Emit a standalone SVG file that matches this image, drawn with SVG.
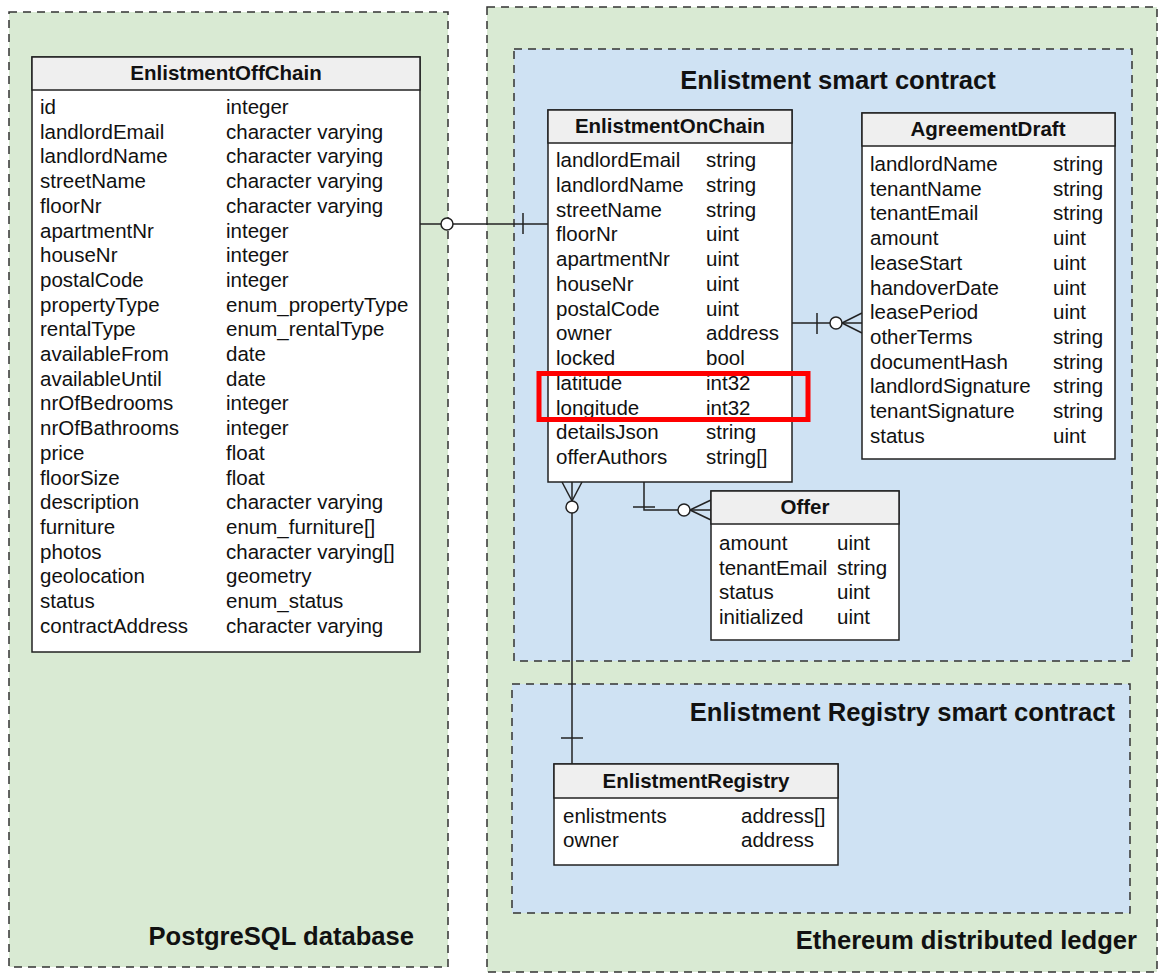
<svg xmlns="http://www.w3.org/2000/svg" width="1162" height="974" viewBox="0 0 1162 974">
<style>
.green{fill:#d9ead3;stroke:#333;stroke-width:1.5;stroke-dasharray:8 6}
.blue{fill:#cfe2f3;stroke:#333;stroke-width:1.5;stroke-dasharray:8 6}
.box{fill:#fff;stroke:#222;stroke-width:1.5}
.hdr{fill:#efefef;stroke:#222;stroke-width:1.5}
text{font-family:"Liberation Sans",Arial,sans-serif;fill:#111}
.h{font-size:20.5px;font-weight:bold;text-anchor:middle}
.r{font-size:20.5px}
.t{font-size:25.6px;font-weight:bold}
.ln{fill:none;stroke:#222;stroke-width:1.5}
.c{fill:#fff;stroke:#222;stroke-width:1.5}
</style>
<rect x="0" y="0" width="1162" height="974" fill="#fff"/>
<g id="postgres">
<rect class="green" x="9" y="12" width="439" height="955"/>
<text class="t" x="414" y="945" text-anchor="end">PostgreSQL database</text>
</g>
<g id="ethereum">
<rect class="green" x="487" y="7" width="670" height="965"/>
<text class="t" x="1137" y="949" text-anchor="end">Ethereum distributed ledger</text>
</g>
<g id="enlistment-contract">
<rect class="blue" x="514" y="49" width="618" height="612"/>
<text class="t" x="838" y="89" text-anchor="middle">Enlistment smart contract</text>
</g>
<g id="registry-contract">
<rect class="blue" x="512" y="684" width="618" height="229"/>
<text class="t" x="1115" y="721" text-anchor="end">Enlistment Registry smart contract</text>
</g>
<g id="connectors">
<line class="ln" x1="420" y1="224" x2="548" y2="224"/>
<line class="ln" x1="523" y1="213" x2="523" y2="234"/>
<circle class="c" cx="447" cy="224" r="6"/>
<line class="ln" x1="792" y1="323" x2="862" y2="323"/>
<line class="ln" x1="817" y1="313" x2="817" y2="334"/>
<line class="ln" x1="842" y1="323" x2="862" y2="313"/>
<line class="ln" x1="842" y1="323" x2="862" y2="333"/>
<circle class="c" cx="836" cy="323" r="6"/>
<polyline class="ln" points="644,482 644,510 711,510"/>
<line class="ln" x1="633" y1="507" x2="655" y2="507"/>
<line class="ln" x1="690" y1="510" x2="711" y2="500"/>
<line class="ln" x1="690" y1="510" x2="711" y2="520"/>
<circle class="c" cx="684" cy="510" r="6"/>
<line class="ln" x1="572" y1="482" x2="572" y2="764"/>
<line class="ln" x1="562" y1="482" x2="572" y2="501"/>
<line class="ln" x1="582" y1="482" x2="572" y2="501"/>
<circle class="c" cx="572" cy="507" r="6"/>
<line class="ln" x1="561" y1="738" x2="583" y2="738"/>
</g>
<g id="EnlistmentOffChain">
<rect class="box" x="32" y="57" width="388" height="595"/>
<rect class="hdr" x="32" y="57" width="388" height="33"/>
<text class="h" x="226" y="80">EnlistmentOffChain</text>
<g class="r">
<text x="40" y="114">id</text><text x="226" y="114">integer</text>
<text x="40" y="138.7">landlordEmail</text><text x="226" y="138.7">character varying</text>
<text x="40" y="163.4">landlordName</text><text x="226" y="163.4">character varying</text>
<text x="40" y="188.1">streetName</text><text x="226" y="188.1">character varying</text>
<text x="40" y="212.8">floorNr</text><text x="226" y="212.8">character varying</text>
<text x="40" y="237.5">apartmentNr</text><text x="226" y="237.5">integer</text>
<text x="40" y="262.2">houseNr</text><text x="226" y="262.2">integer</text>
<text x="40" y="286.9">postalCode</text><text x="226" y="286.9">integer</text>
<text x="40" y="311.6">propertyType</text><text x="226" y="311.6">enum_propertyType</text>
<text x="40" y="336.3">rentalType</text><text x="226" y="336.3">enum_rentalType</text>
<text x="40" y="361">availableFrom</text><text x="226" y="361">date</text>
<text x="40" y="385.7">availableUntil</text><text x="226" y="385.7">date</text>
<text x="40" y="410.4">nrOfBedrooms</text><text x="226" y="410.4">integer</text>
<text x="40" y="435.1">nrOfBathrooms</text><text x="226" y="435.1">integer</text>
<text x="40" y="459.8">price</text><text x="226" y="459.8">float</text>
<text x="40" y="484.5">floorSize</text><text x="226" y="484.5">float</text>
<text x="40" y="509.2">description</text><text x="226" y="509.2">character varying</text>
<text x="40" y="533.9">furniture</text><text x="226" y="533.9">enum_furniture[]</text>
<text x="40" y="558.6">photos</text><text x="226" y="558.6">character varying[]</text>
<text x="40" y="583.3">geolocation</text><text x="226" y="583.3">geometry</text>
<text x="40" y="608">status</text><text x="226" y="608">enum_status</text>
<text x="40" y="632.7">contractAddress</text><text x="226" y="632.7">character varying</text>
</g>
</g>
<g id="EnlistmentOnChain">
<rect class="box" x="548" y="110" width="244" height="372"/>
<rect class="hdr" x="548" y="110" width="244" height="33"/>
<text class="h" x="670" y="133">EnlistmentOnChain</text>
<g class="r">
<text x="556" y="167">landlordEmail</text><text x="706" y="167">string</text>
<text x="556" y="191.75">landlordName</text><text x="706" y="191.75">string</text>
<text x="556" y="216.5">streetName</text><text x="706" y="216.5">string</text>
<text x="556" y="241.25">floorNr</text><text x="706" y="241.25">uint</text>
<text x="556" y="266">apartmentNr</text><text x="706" y="266">uint</text>
<text x="556" y="290.75">houseNr</text><text x="706" y="290.75">uint</text>
<text x="556" y="315.5">postalCode</text><text x="706" y="315.5">uint</text>
<text x="556" y="340.25">owner</text><text x="706" y="340.25">address</text>
<text x="556" y="365">locked</text><text x="706" y="365">bool</text>
<text x="556" y="389.75">latitude</text><text x="706" y="389.75">int32</text>
<text x="556" y="414.5">longitude</text><text x="706" y="414.5">int32</text>
<text x="556" y="439.25">detailsJson</text><text x="706" y="439.25">string</text>
<text x="556" y="464">offerAuthors</text><text x="706" y="464">string[]</text>
</g>
<rect x="539" y="373.5" width="269" height="46" fill="none" stroke="#f00" stroke-width="5"/>
</g>
<g id="AgreementDraft">
<rect class="box" x="862" y="113" width="253" height="346"/>
<rect class="hdr" x="862" y="113" width="253" height="33"/>
<text class="h" x="988" y="136">AgreementDraft</text>
<g class="r">
<text x="870" y="171">landlordName</text><text x="1053" y="171">string</text>
<text x="870" y="195.7">tenantName</text><text x="1053" y="195.7">string</text>
<text x="870" y="220.4">tenantEmail</text><text x="1053" y="220.4">string</text>
<text x="870" y="245.1">amount</text><text x="1053" y="245.1">uint</text>
<text x="870" y="269.8">leaseStart</text><text x="1053" y="269.8">uint</text>
<text x="870" y="294.5">handoverDate</text><text x="1053" y="294.5">uint</text>
<text x="870" y="319.2">leasePeriod</text><text x="1053" y="319.2">uint</text>
<text x="870" y="343.9">otherTerms</text><text x="1053" y="343.9">string</text>
<text x="870" y="368.6">documentHash</text><text x="1053" y="368.6">string</text>
<text x="870" y="393.3">landlordSignature</text><text x="1053" y="393.3">string</text>
<text x="870" y="418">tenantSignature</text><text x="1053" y="418">string</text>
<text x="870" y="442.7">status</text><text x="1053" y="442.7">uint</text>
</g>
</g>
<g id="Offer">
<rect class="box" x="711" y="491" width="188" height="149"/>
<rect class="hdr" x="711" y="491" width="188" height="33"/>
<text class="h" x="805" y="514">Offer</text>
<g class="r">
<text x="719" y="550">amount</text><text x="837" y="550">uint</text>
<text x="719" y="574.6">tenantEmail</text><text x="837" y="574.6">string</text>
<text x="719" y="599.2">status</text><text x="837" y="599.2">uint</text>
<text x="719" y="623.8">initialized</text><text x="837" y="623.8">uint</text>
</g>
</g>
<g id="EnlistmentRegistry">
<rect class="box" x="554" y="764" width="284" height="101"/>
<rect class="hdr" x="554" y="764" width="284" height="34"/>
<text class="h" x="696" y="788">EnlistmentRegistry</text>
<g class="r">
<text x="563" y="823">enlistments</text><text x="741" y="823">address[]</text>
<text x="563" y="847">owner</text><text x="741" y="847">address</text>
</g>
</g>
</svg>
